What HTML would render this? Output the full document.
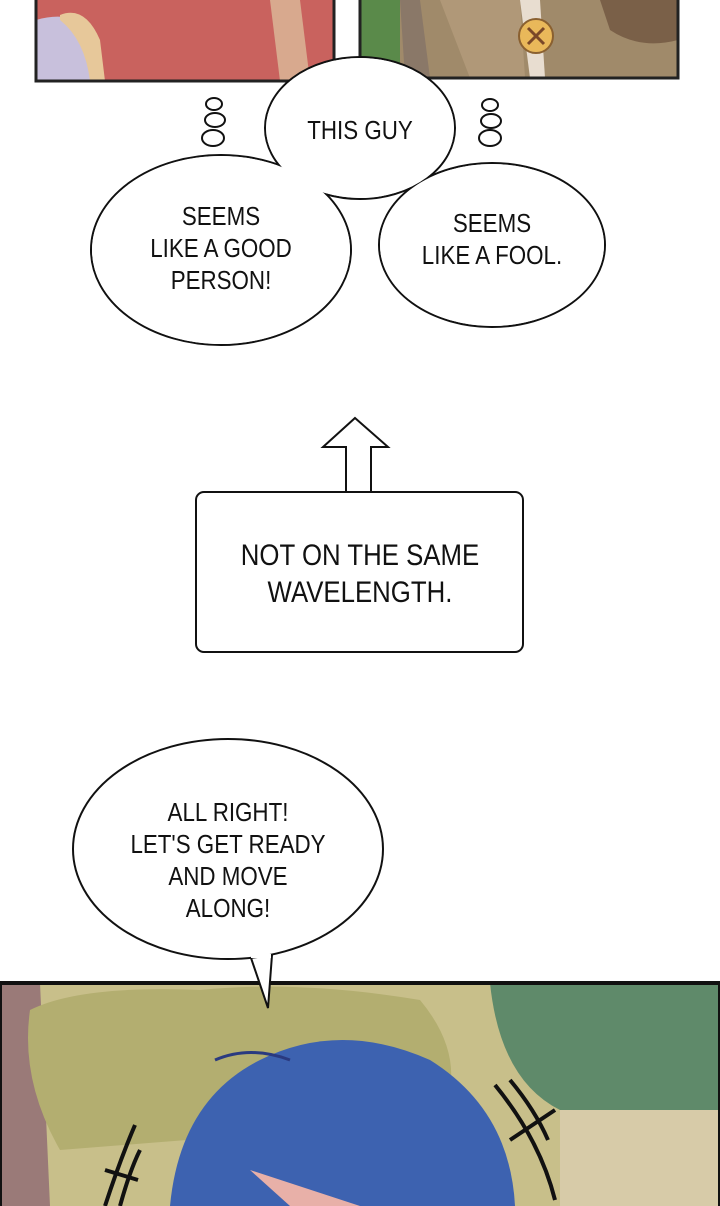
<!DOCTYPE html>
<html><head><style>
html,body{margin:0;padding:0;background:#fff;width:720px;height:1206px;overflow:hidden}
svg{display:block}
text{font-family:"Liberation Sans",sans-serif;fill:#111;transform-box:fill-box;transform-origin:center;transform:scaleX(0.86)}
</style></head><body>
<svg width="720" height="1206" viewBox="0 0 720 1206">
<rect x="36" y="-2" width="298" height="83" fill="#c9625e"/>
<path d="M36 20 Q70 10 95 30 L100 81 L36 81Z" fill="#c8c0dc"/>
<path d="M60 15 Q85 5 100 40 L105 81 L90 81 Q85 40 60 20Z" fill="#e7c89a"/>
<path d="M270 0 L300 0 L310 81 L280 81Z" fill="#d8a98e"/>
<rect x="36" y="-2" width="298" height="83" fill="none" stroke="#222" stroke-width="3"/>
<rect x="360" y="-2" width="318" height="80" fill="#a08a6a"/>
<rect x="360" y="-2" width="40" height="80" fill="#5a8a4a"/>
<path d="M400 0 L420 0 L430 78 L405 78Z" fill="#8a7868"/>
<path d="M440 0 L520 0 L525 78 L470 78Z" fill="#b09878"/>
<path d="M600 0 L678 0 L678 40 Q640 50 610 30Z" fill="#7a6048"/>
<path d="M520 0 L540 0 L545 78 L530 78Z" fill="#e8ddd0"/>
<circle cx="536" cy="36" r="17" fill="#e9b85a" stroke="#8a6030" stroke-width="2"/>
<path d="M528 28 L544 44 M544 28 L528 44" stroke="#7a4828" stroke-width="3"/>
<rect x="360" y="-2" width="318" height="80" fill="none" stroke="#222" stroke-width="3"/>
<g fill="#fff" stroke="#111" stroke-width="2">
<ellipse cx="221" cy="250" rx="130" ry="95"/>
<ellipse cx="492" cy="245" rx="113" ry="82"/>
<ellipse cx="360" cy="128" rx="95" ry="71"/>
</g>
<g fill="#fff">
<ellipse cx="221" cy="250" rx="129" ry="94"/>
<ellipse cx="492" cy="245" rx="112" ry="81"/>
<ellipse cx="360" cy="128" rx="94" ry="70"/>
</g>
<g fill="#fff" stroke="#111" stroke-width="2">
<ellipse cx="214" cy="104" rx="8" ry="6"/>
<ellipse cx="215" cy="120" rx="10" ry="7"/>
<ellipse cx="213" cy="138" rx="11" ry="8"/>
<ellipse cx="490" cy="105" rx="8" ry="6"/>
<ellipse cx="491" cy="121" rx="10" ry="7"/>
<ellipse cx="490" cy="138" rx="11" ry="8"/>
</g>
<g font-size="26" text-anchor="middle">
<text x="360" y="139">THIS GUY</text>
<text x="221" y="225">SEEMS</text>
<text x="221" y="257">LIKE A GOOD</text>
<text x="221" y="289">PERSON!</text>
<text x="492" y="232">SEEMS</text>
<text x="492" y="264">LIKE A FOOL.</text>
</g>
<path d="M355 418 L388 447 L371 447 L371 493 L346 493 L346 447 L323 447Z" fill="#fff" stroke="#111" stroke-width="2"/>
<rect x="196" y="492" width="327" height="160" rx="8" fill="#fff" stroke="#111" stroke-width="2"/>
<g font-size="30" text-anchor="middle">
<text x="360" y="565">NOT ON THE SAME</text>
<text x="360" y="602">WAVELENGTH.</text>
</g>
<rect x="0" y="983" width="720" height="230" fill="#c8bf8a"/>
<path d="M0 983 L40 983 L50 1206 L0 1206Z" fill="#9a7a78"/>
<path d="M30 1010 Q80 985 200 990 Q300 980 420 1000 Q470 1060 440 1120 L60 1150 Q20 1080 30 1010Z" fill="#b3ae70"/>
<path d="M490 983 L720 983 L720 1140 Q650 1130 560 1110 Q500 1080 490 983Z" fill="#5f8a6a"/>
<rect x="560" y="1110" width="160" height="96" fill="#d7cba8"/>
<path d="M170 1206 Q180 1100 260 1060 Q340 1020 430 1060 Q510 1110 515 1206Z" fill="#3d62b0"/>
<path d="M215 1060 Q250 1045 290 1060" stroke="#2a3a80" stroke-width="3" fill="none"/>
<path d="M250 1170 L290 1206 L360 1206 Z" fill="#e8b0a8"/>
<g stroke="#111" stroke-width="4" fill="none">
<path d="M105 1206 Q120 1160 135 1125"/><path d="M120 1206 Q130 1170 140 1150"/><path d="M105 1170 L138 1180"/>
<path d="M495 1085 Q540 1140 555 1200"/><path d="M510 1080 Q535 1110 548 1140"/><path d="M510 1140 L555 1110"/>
</g>
<rect x="0" y="983" width="720" height="240" fill="none" stroke="#111" stroke-width="4"/>
<path d="M250 955 L268 1008 L272 955Z" fill="#fff" stroke="#111" stroke-width="2"/>
<ellipse cx="228" cy="849" rx="155" ry="110" fill="#fff" stroke="#111" stroke-width="2"/>
<path d="M251 956 L271 956" stroke="#fff" stroke-width="4"/>
<g font-size="26" text-anchor="middle">
<text x="228" y="821">ALL RIGHT!</text>
<text x="228" y="853">LET'S GET READY</text>
<text x="228" y="885">AND MOVE</text>
<text x="228" y="917">ALONG!</text>
</g>
</svg>
</body></html>
